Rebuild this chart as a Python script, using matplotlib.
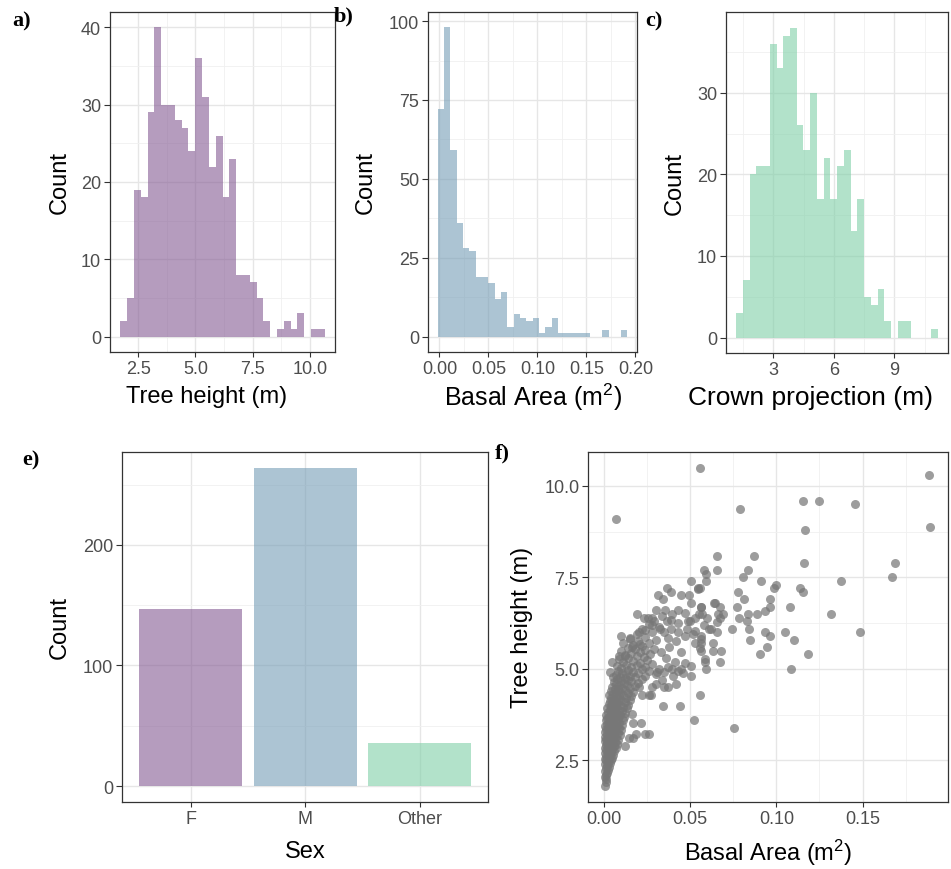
import numpy as np
import matplotlib
matplotlib.use("Agg")
import matplotlib.pyplot as plt

plt.rcParams['font.family'] = ['Liberation Sans', 'DejaVu Sans']
plt.rcParams['mathtext.fontset'] = 'custom'
plt.rcParams['mathtext.rm'] = 'Liberation Sans'
plt.rcParams['mathtext.default'] = 'regular'

# ---------------- data ----------------
# a) Tree height histogram (30 bins)
height_bin_min, height_bin_max = 1.715, 10.65
height_counts = [2, 5, 19, 18, 29, 40, 30, 30, 28, 27, 24, 36, 31, 22, 26,
                 18, 23, 8, 8, 7, 5, 2, 0, 1, 2, 1, 3, 0, 1, 1]

# b) Basal area histogram (30 bins)
ba_bin_min, ba_bin_max = -0.00173, 0.19188
ba_counts = [72, 98, 59, 36, 28, 27, 19, 19, 17, 12, 14, 3, 7, 6, 5,
             6, 1, 3, 6, 1, 1, 1, 1, 1, 0, 0, 2, 0, 0, 2]

# c) Crown projection histogram (30 bins)
crown_bin_min, crown_bin_max = 1.16, 11.17
crown_counts = [3, 7, 20, 21, 21, 36, 33, 37, 38, 26, 23, 30, 17, 22, 17,
                21, 23, 13, 17, 5, 4, 6, 2, 0, 2, 2, 0, 0, 0, 1]

# e) Sex counts
sex_categories = ['F', 'M', 'Other']
sex_counts = [147, 264, 36]

# f) Scatter: basal area (m2) vs tree height (m)
basal_area = [
    0.0556, 0.0790, 0.1152, 0.1247, 0.1458, 0.1885, 0.1893, 0.1165, 0.1161, 0.1690,
    0.1672, 0.1372, 0.1487, 0.1314, 0.1084, 0.1186, 0.1103, 0.1050, 0.1079, 0.1140,
    0.1155, 0.0997, 0.0985, 0.0966, 0.0966, 0.0937, 0.0887, 0.0910, 0.0868, 0.0655,
    0.0655, 0.0833, 0.0805, 0.0778, 0.0813, 0.0774, 0.0782, 0.0833, 0.0830, 0.0839,
    0.0847, 0.0741, 0.0937, 0.0962, 0.0943, 0.0908, 0.0556, 0.0580, 0.0594, 0.0594,
    0.0556, 0.0642, 0.0671, 0.0690, 0.0675, 0.0655, 0.0661, 0.0566, 0.0571, 0.0609,
    0.0655, 0.0566, 0.0566, 0.0632, 0.0632, 0.0680, 0.0671, 0.0584, 0.0594, 0.0561,
    0.0071, 0.0546,
    0.0508, 0.0548, 0.0364, 0.0389, 0.0312, 0.0343, 0.0446, 0.0492, 0.0504, 0.0561,
    0.0638, 0.0190, 0.0230, 0.0255, 0.0278, 0.0303, 0.0354, 0.0393, 0.0431, 0.0469,
    0.0527, 0.0489, 0.0364, 0.0389, 0.0326, 0.0278, 0.0240, 0.0205, 0.0431, 0.0469,
    0.0517, 0.0561, 0.0556, 0.0527, 0.0584, 0.0504, 0.0504, 0.0450, 0.0397, 0.0347,
    0.0307, 0.0374, 0.0349, 0.0421, 0.0274, 0.0220, 0.0205, 0.0345, 0.0441, 0.0523,
    0.0753, 0.0163, 0.0169, 0.0217, 0.0186, 0.0236, 0.0259, 0.0144, 0.0172, 0.0121,
    0.0102, 0.0111, 0.0048, 0.0033, 0.0052, 0.0086, 0.0153, 0.0163, 0.0125, 0.0211,
    # dense cluster
    0.0008, 0.0010, 0.0012, 0.0006, 0.0015, 0.0020, 0.0009, 0.0025, 0.0013, 0.0030,
    0.0018, 0.0005, 0.0035, 0.0022, 0.0011, 0.0040,
    0.0007, 0.0028, 0.0045, 0.0015, 0.0035, 0.0052, 0.0008, 0.0024, 0.0042, 0.0060,
    0.0015, 0.0032, 0.0050, 0.0005, 0.0068, 0.0022, 0.0040, 0.0058, 0.0012, 0.0030,
    0.0075, 0.0048, 0.0020, 0.0065,
    0.0006, 0.0036, 0.0054, 0.0085, 0.0014, 0.0026, 0.0044, 0.0072, 0.0008, 0.0060,
    0.0034, 0.0092, 0.0018, 0.0050, 0.0080, 0.0004, 0.0028, 0.0066, 0.0040, 0.0098,
    0.0012, 0.0056, 0.0086, 0.0022, 0.0046, 0.0074, 0.0008, 0.0034, 0.0104, 0.0062,
    0.0016,
    0.0052, 0.0090, 0.0028, 0.0040, 0.0070, 0.0110, 0.0010, 0.0058, 0.0020, 0.0084,
    0.0046, 0.0118, 0.0032, 0.0066, 0.0096, 0.0014, 0.0054, 0.0078, 0.0040, 0.0124,
    0.0024, 0.0104, 0.0062, 0.0088, 0.0034, 0.0048, 0.0132, 0.0018, 0.0072, 0.0112,
    0.0058, 0.0040,
    0.0094, 0.0140, 0.0028, 0.0068, 0.0050, 0.0120, 0.0082, 0.0036, 0.0150, 0.0102,
    0.0060, 0.0044, 0.0130, 0.0076, 0.0090, 0.0160, 0.0030, 0.0112, 0.0054, 0.0140,
    0.0070, 0.0096, 0.0170, 0.0042, 0.0124, 0.0084, 0.0062, 0.0152, 0.0106,
    0.0050, 0.0180, 0.0088, 0.0134, 0.0070, 0.0116, 0.0200, 0.0060, 0.0160, 0.0098,
    0.0140, 0.0078, 0.0220, 0.0120, 0.0180, 0.0092, 0.0150, 0.0240, 0.0068, 0.0130,
    0.0200, 0.0108, 0.0170, 0.0085, 0.0260, 0.0140, 0.0220,
    0.0100, 0.0160, 0.0240, 0.0075, 0.0190, 0.0130, 0.0280, 0.0210, 0.0110, 0.0170,
    0.0250, 0.0090, 0.0140, 0.0230, 0.0190, 0.0120, 0.0270, 0.0160, 0.0210, 0.0100,
    0.0240, 0.0180, 0.0140,
    0.0220, 0.0170, 0.0260, 0.0200, 0.0300, 0.0150, 0.0240, 0.0190, 0.0280, 0.0220,
    0.0320, 0.0260,
    0.0290, 0.0330, 0.0360, 0.0380, 0.0410, 0.0420, 0.0450, 0.0470, 0.0320, 0.0370,
    0.0430, 0.0300, 0.0340, 0.0400, 0.0460, 0.0280, 0.0260, 0.0300, 0.0350, 0.0390,
    0.0430, 0.0480, 0.0500, 0.0530, 0.0370, 0.0340, 0.0290, 0.0550, 0.0580, 0.0600,
    0.0620,
]
tree_height = [
    10.50, 9.38, 9.59, 9.59, 9.50, 10.29, 8.89, 8.80, 7.90, 7.90,
    7.50, 7.40, 6.00, 6.50, 5.00, 5.40, 5.80, 6.00, 6.70, 7.20,
    7.09, 7.30, 7.20, 6.90, 6.70, 6.58, 6.50, 7.40, 8.09, 8.09,
    7.70, 7.70, 7.50, 7.10, 6.90, 6.70, 6.40, 6.50, 6.30, 6.09,
    5.80, 6.09, 6.00, 5.90, 5.60, 5.40, 4.28, 7.70, 7.60, 7.40,
    7.20, 6.79, 6.70, 6.50, 6.40, 6.27, 6.50, 6.70, 6.50, 6.09,
    6.00, 5.90, 5.70, 5.70, 5.50, 5.50, 5.20, 5.20, 5.00, 5.50,
    9.09, 7.19,
    7.40, 7.20, 7.20, 7.10, 7.01, 6.90, 7.01, 7.01, 6.81, 6.70,
    6.81, 6.51, 6.40, 6.40, 6.40, 6.61, 6.61, 6.51, 6.61, 6.54,
    6.40, 6.31, 6.31, 6.09, 6.09, 6.20, 6.07, 6.00, 6.00, 5.91,
    5.95, 5.82, 5.56, 5.72, 5.27, 5.09, 4.82, 5.00, 5.00, 4.91,
    4.91, 4.50, 4.50, 4.59, 4.29, 4.29, 4.50, 4.00, 4.00, 3.60,
    3.40, 3.78, 3.51, 3.51, 3.22, 3.22, 3.22, 3.10, 3.10, 2.89,
    5.91, 5.72, 5.18, 4.91, 4.77, 5.34, 5.82, 5.59, 5.36, 5.68,
    # dense cluster
    1.80, 1.90, 2.00, 2.05, 2.10, 2.15, 2.20, 2.25, 2.30, 2.32,
    2.38, 2.40, 2.42, 2.45, 2.50, 2.50,
    2.55, 2.56, 2.58, 2.62, 2.64, 2.66, 2.70, 2.71, 2.73, 2.75,
    2.78, 2.80, 2.82, 2.84, 2.85, 2.87, 2.88, 2.90, 2.92, 2.94,
    2.95, 2.97, 2.99, 3.00,
    3.02, 3.03, 3.05, 3.06, 3.08, 3.10, 3.12, 3.13, 3.15, 3.17,
    3.18, 3.20, 3.22, 3.24, 3.25, 3.27, 3.28, 3.30, 3.32, 3.33,
    3.35, 3.36, 3.38, 3.40, 3.42, 3.43, 3.45, 3.46, 3.47, 3.48,
    3.50,
    3.52, 3.53, 3.55, 3.57, 3.58, 3.60, 3.61, 3.63, 3.65, 3.66,
    3.68, 3.69, 3.70, 3.72, 3.73, 3.75, 3.77, 3.78, 3.80, 3.81,
    3.83, 3.84, 3.86, 3.87, 3.89, 3.91, 3.92, 3.93, 3.95, 3.96,
    3.98, 4.00,
    4.01, 4.02, 4.04, 4.06, 4.08, 4.09, 4.11, 4.13, 4.14, 4.16,
    4.18, 4.20, 4.21, 4.23, 4.25, 4.26, 4.28, 4.30, 4.32, 4.33,
    4.35, 4.37, 4.38, 4.40, 4.42, 4.44, 4.46, 4.47, 4.49,
    4.52, 4.53, 4.55, 4.57, 4.59, 4.61, 4.62, 4.64, 4.66, 4.68,
    4.70, 4.72, 4.73, 4.75, 4.77, 4.79, 4.81, 4.82, 4.84, 4.86,
    4.88, 4.90, 4.92, 4.94, 4.95, 4.97, 4.99,
    5.02, 5.04, 5.06, 5.08, 5.10, 5.12, 5.14, 5.17, 5.19, 5.22,
    5.24, 5.27, 5.30, 5.32, 5.35, 5.38, 5.40, 5.43, 5.46, 5.48,
    5.52, 5.55, 5.58,
    5.62, 5.66, 5.70, 5.75, 5.78, 5.85, 5.88, 5.95, 6.02, 6.10,
    6.15, 6.22,
    5.55, 5.45, 5.30, 5.60, 5.20, 5.75, 5.45, 5.15, 5.00, 5.05,
    4.95, 4.85, 4.70, 4.80, 4.90, 4.50, 4.30, 4.60, 6.00, 6.35,
    6.25, 6.10, 6.30, 6.05, 5.85, 6.45, 6.30, 6.50, 6.20, 6.40,
    6.10,
]

# ---------------- styling ----------------
PURPLE = '#845A93'
BLUE = '#769DB6'
GREEN = '#7FCFA7'
BAR_ALPHA = 0.6
W, H = 951, 870


def axes_px(x0, y0, x1, y1):
    return fig.add_axes([x0 / W, 1 - y1 / H, (x1 - x0) / W, (y1 - y0) / H])


def style(ax, tick_size=13):
    ax.set_axisbelow(True)
    ax.grid(which='major', color='#E6E6E6', lw=1.0)
    ax.grid(which='minor', color='#F0F0F0', lw=0.6)
    for s in ax.spines.values():
        s.set_color('#333333')
        s.set_linewidth(0.9)
    ax.tick_params(axis='both', which='major', color='#333333', width=0.8,
                   labelcolor='#4D4D4D', labelsize=tick_size, pad=2)
    ax.tick_params(axis='x', which='major', length=3.6)
    ax.tick_params(axis='y', which='major', length=4.5)
    ax.tick_params(which='minor', length=0)


def labels(ax, xl, yl, xc, yc, xs=16, ys=16, xpos=0.5):
    ax.set_xlabel(xl, fontsize=xs, color='black')
    ax.set_ylabel(yl, fontsize=ys, color='black')
    ax.xaxis.label.set_va('center')
    ax.yaxis.label.set_va('center')
    ax.xaxis.set_label_coords(xpos, xc)
    ax.yaxis.set_label_coords(yc, 0.5)


def hist(ax, lo, hi, counts, color):
    edges = np.linspace(lo, hi, len(counts) + 1)
    ax.bar(edges[:-1], counts, width=np.diff(edges), align='edge',
           color=color, alpha=BAR_ALPHA, linewidth=0)


fig = plt.figure(figsize=(W / 100, H / 100), dpi=100)

# a)
ax = axes_px(110, 13, 335, 353)
style(ax)
hist(ax, height_bin_min, height_bin_max, height_counts, PURPLE)
ax.set_xlim(1.268, 11.097)
ax.set_ylim(-2, 42)
ax.set_xticks([2.5, 5.0, 7.5, 10.0], ['2.5', '5.0', '7.5', '10.0'])
ax.set_xticks([3.75, 6.25, 8.75], minor=True)
ax.set_yticks([0, 10, 20, 30, 40])
ax.set_yticks([5, 15, 25, 35], minor=True)
labels(ax, 'Tree height (m)', 'Count', -0.13, -0.222, xs=17, ys=17, xpos=0.43)

# b)
ax = axes_px(428.3, 13, 637, 353)
style(ax)
hist(ax, ba_bin_min, ba_bin_max, ba_counts, BLUE)
ax.set_xlim(-0.0114, 0.2016)
ax.set_ylim(-4.9, 102.9)
ax.set_xticks([0, 0.05, 0.10, 0.15, 0.20], ['0.00', '0.05', '0.10', '0.15', '0.20'])
ax.set_xticks([0.025, 0.075, 0.125, 0.175], minor=True)
ax.set_yticks([0, 25, 50, 75, 100])
ax.set_yticks([12.5, 37.5, 62.5, 87.5], minor=True)
labels(ax, 'Basal Area (m$^{2}$)', 'Count', -0.13, -0.2985, xs=18, ys=17, xpos=0.5)

# c)
ax = axes_px(726, 13, 948.3, 354)
style(ax)
hist(ax, crown_bin_min, crown_bin_max, crown_counts, GREEN)
ax.set_xlim(0.66, 11.67)
ax.set_ylim(-1.9, 39.9)
ax.set_xticks([3, 6, 9])
ax.set_xticks([1.5, 4.5, 7.5, 10.5], minor=True)
ax.set_yticks([0, 10, 20, 30])
ax.set_yticks([5, 15, 25, 35], minor=True)
labels(ax, 'Crown projection (m)', 'Count', -0.13, -0.229, xs=19, ys=17, xpos=0.38)

# e)
ax = axes_px(122, 452.7, 488.3, 803)
style(ax, tick_size=13)
pos = np.arange(1, len(sex_categories) + 1)
ax.bar(pos, sex_counts, width=0.9, color=[PURPLE, BLUE, GREEN],
       alpha=BAR_ALPHA, linewidth=0)
ax.set_xlim(0.4, 3.6)
ax.set_ylim(-13.2, 277.2)
ax.set_xticks(pos, sex_categories)
ax.set_yticks([0, 100, 200])
ax.set_yticks([50, 150, 250], minor=True)
labels(ax, 'Sex', 'Count', -0.14, -0.169, xs=17, ys=17)

# f)
ax = axes_px(588.3, 452.7, 948, 803)
style(ax, tick_size=13)
ax.scatter(basal_area, tree_height, s=42, color='#777777', alpha=0.72,
           linewidths=0)
ax.set_xlim(-0.009, 0.1995)
ax.set_ylim(1.365, 10.935)
ax.set_xticks([0, 0.05, 0.10, 0.15], ['0.00', '0.05', '0.10', '0.15'])
ax.set_xticks([0.025, 0.075, 0.125, 0.175], minor=True)
ax.set_yticks([2.5, 5.0, 7.5, 10.0], ['2.5', '5.0', '7.5', '10.0'])
ax.set_yticks([3.75, 6.25, 8.75], minor=True)
labels(ax, 'Basal Area (m$^{2}$)', 'Tree height (m)', -0.142, -0.184, xs=17, ys=17)

# panel letters
for txt, x, y in [('a)', 22, 21), ('b)', 344, 16), ('c)', 654, 21),
                  ('e)', 31, 460), ('f)', 502, 453)]:
    fig.text(x / W, 1 - y / H, txt, fontsize=16, fontweight='bold',
             family='Liberation Serif', ha='center', va='center')

fig.savefig('out.png', dpi=100)
